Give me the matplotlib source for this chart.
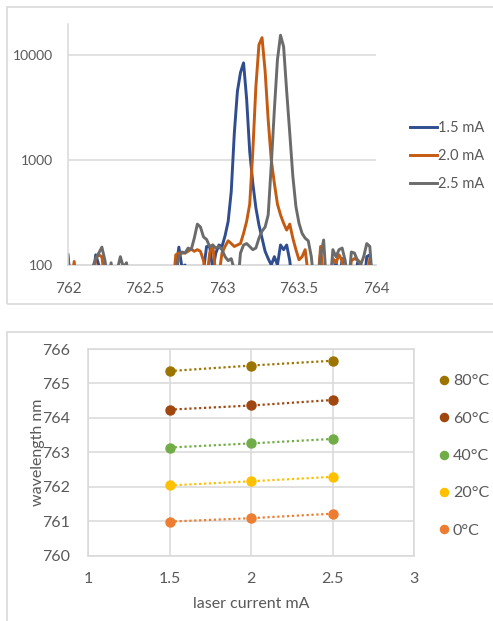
import numpy as np
import matplotlib
matplotlib.use("Agg")
import matplotlib.pyplot as plt
from matplotlib.patches import Rectangle
from matplotlib.lines import Line2D

plt.rcParams['font.family'] = ['Lato', 'DejaVu Sans']

# ---------------- data: spectra (intensity vs wavelength, nm) ----------------
wl_start, wl_step = 762.0, 0.02
spec_labels = ["1.5 mA", "2.0 mA", "2.5 mA"]
spec_15 = [125, 60, 60, 60, 60, 60, 60, 60, 70, 125,
           100, 60, 60, 60, 60, 60, 60, 60, 60, 60,
           60, 60, 60, 60, 60, 60, 60, 60, 60, 60,
           60, 60, 60, 60, 60, 90, 148, 95, 100, 75,
           60, 60, 60, 60, 90, 150, 150, 90, 130, 155,
           150, 190, 260, 500, 1800, 4500, 6800, 8400, 3800, 1200,
           600, 350, 240, 180, 135, 115, 100, 120, 100, 155,
           140, 155, 110, 60, 60, 60, 60, 60, 60, 60,
           60, 60, 130, 60, 60, 60, 60, 110, 60, 115,
           60, 60, 60, 60, 105, 95, 60, 120, 125, 60, 60]
spec_20 = [60, 60, 108, 60, 60, 60, 60, 60, 60, 115,
           125, 120, 70, 60, 60, 60, 60, 60, 60, 60,
           60, 60, 60, 60, 60, 60, 60, 60, 60, 60,
           60, 60, 60, 60, 60, 125, 130, 130, 130, 135,
           142, 135, 140, 135, 110, 70, 130, 155, 80, 80,
           130, 150, 170, 160, 150, 155, 160, 200, 260, 380,
           1200, 5000, 12500, 14600, 7000, 2400, 1000, 600, 380, 300,
           250, 215, 245, 180, 140, 112, 120, 140, 80, 60,
           60, 60, 150, 70, 60, 60, 115, 105, 125, 110,
           60, 60, 110, 115, 112, 105, 60, 60, 115, 60, 60]
spec_25 = [115, 60, 60, 60, 60, 60, 60, 60, 95, 115,
           130, 148, 110, 70, 105, 60, 90, 120, 95, 105,
           60, 60, 60, 60, 60, 60, 60, 60, 60, 60,
           60, 60, 60, 60, 60, 80, 120, 133, 130, 145,
           140, 180, 245, 230, 185, 175, 150, 155, 145, 150,
           140, 120, 110, 115, 90, 60, 130, 155, 160, 150,
           140, 145, 180, 210, 230, 300, 900, 3000, 9000, 15400,
           12000, 4500, 1800, 700, 360, 250, 200, 180, 170, 120,
           60, 60, 120, 173, 60, 60, 140, 120, 140, 145,
           110, 60, 133, 130, 110, 100, 120, 160, 150, 60, 60]
spec_colors = ["#2F4D8F", "#C55A11", "#6B6B6B"]

# ---------------- data: wavelength vs laser current ----------------
current_mA = [1.5, 2.0, 2.5]
temp_labels = ["80°C", "60°C", "40°C", "20°C", "0°C"]
wl_80 = [765.36, 765.52, 765.66]
wl_60 = [764.24, 764.36, 764.52]
wl_40 = [763.14, 763.26, 763.39]
wl_20 = [762.04, 762.16, 762.29]
wl_0 = [760.99, 761.09, 761.22]
temp_colors = ["#9C7400", "#A0460F", "#70AD47", "#FFC000", "#ED7D31"]

W, H = 493, 621
fig = plt.figure(figsize=(W / 100, H / 100), dpi=100)
fig.patch.set_facecolor("white")

txt = "#595959"
grid_c = "#D9D9D9"
frame_c = "#D9D9D9"

def fx(px):
    return px / W

def fy(py):
    return 1 - py / H

# frames around the two charts
fig.patches.append(Rectangle((fx(6.5), fy(304)), fx(495 - 6.5), (304 - 7) / H,
                             transform=fig.transFigure, fill=False, edgecolor=frame_c, lw=1.2))
fig.patches.append(Rectangle((fx(6.5), fy(625)), fx(495 - 6.5), (625 - 331.5) / H,
                             transform=fig.transFigure, fill=False, edgecolor=frame_c, lw=1.2))

# ---------------- top chart ----------------
ax1 = fig.add_axes([fx(68), fy(265), fx(376 - 68), (265 - 24) / H])
wl = wl_start + wl_step * np.arange(len(spec_15))
for vals, lab, c in zip([spec_15, spec_20, spec_25], spec_labels, spec_colors):
    ax1.plot(wl, vals, color=c, lw=2.1, label=lab, solid_joinstyle="round")
ax1.set_yscale("log")
ax1.set_ylim(100, 19700)
ax1.set_xlim(762, 764)
ax1.set_xticks([762, 762.5, 763, 763.5, 764])
ax1.set_xticklabels(["762", "762.5", "763", "763.5", "764"])
ax1.set_yticks([100, 1000, 10000])
ax1.set_yticklabels(["100", "1000", "10000"])
ax1.yaxis.set_minor_locator(matplotlib.ticker.NullLocator())
for y in [1000, 10000]:
    ax1.axhline(y, color=grid_c, lw=1.1, zorder=0)
for s in ["top", "right", "bottom"]:
    ax1.spines[s].set_visible(False)
ax1.spines["left"].set_color(grid_c)
ax1.spines["left"].set_linewidth(1.1)
ax1.axhline(100, color=grid_c, lw=1.3, zorder=0, clip_on=False)
ax1.tick_params(axis="both", length=0, colors=txt)
ax1.tick_params(axis="x", labelsize=11, pad=12)
ax1.tick_params(axis="y", labelsize=10, pad=10.5)

fig.legend(handles=[Line2D([], [], color=c, lw=2.1) for c in spec_colors],
           labels=spec_labels, loc="center left",
           bbox_to_anchor=(fx(410), fy(156)), frameon=False, fontsize=10.5,
           borderpad=0, borderaxespad=0,
           handlelength=1.85, handletextpad=0.1, labelspacing=0.95, labelcolor=txt)

# ---------------- bottom chart ----------------
ax2 = fig.add_axes([fx(88.3), fy(555.7), fx(414.3 - 88.3), (555.7 - 349) / H])
for vals, lab, c in zip([wl_80, wl_60, wl_40, wl_20, wl_0], temp_labels, temp_colors):
    ax2.plot(current_mA, vals, color=c, lw=1.6, ls=(0, (1, 1.2)), zorder=2)
    ax2.plot(current_mA, vals, color=c, lw=0, marker="o", ms=6.5, label=lab, zorder=3)
ax2.set_xlim(1, 3)
ax2.set_ylim(760, 766)
ax2.set_xticks([1, 1.5, 2, 2.5, 3])
ax2.set_xticklabels(["1", "1.5", "2", "2.5", "3"])
ax2.set_yticks(range(760, 767))
ax2.grid(True, color=grid_c, lw=1.1)
ax2.set_axisbelow(True)
for s in ax2.spines.values():
    s.set_color(grid_c)
    s.set_linewidth(1.1)
ax2.tick_params(axis="both", length=0, colors=txt, labelsize=11.5)
ax2.tick_params(axis="x", pad=12)
ax2.tick_params(axis="y", pad=13)
ax2.set_xlabel("laser current mA", color=txt, fontsize=11.5, labelpad=8)
ax2.set_ylabel("wavelength nm", color=txt, fontsize=11.5, labelpad=-2)

handles, labels = ax2.get_legend_handles_labels()
fig.legend(handles, labels, loc="center left", bbox_to_anchor=(fx(437.6), fy(456)),
           frameon=False, fontsize=11.5, borderpad=0, borderaxespad=0,
           handlelength=0.8, handletextpad=0.16,
           labelspacing=1.45, labelcolor=txt, markerscale=0.9)

fig.savefig("out.png", dpi=100, facecolor="white")
